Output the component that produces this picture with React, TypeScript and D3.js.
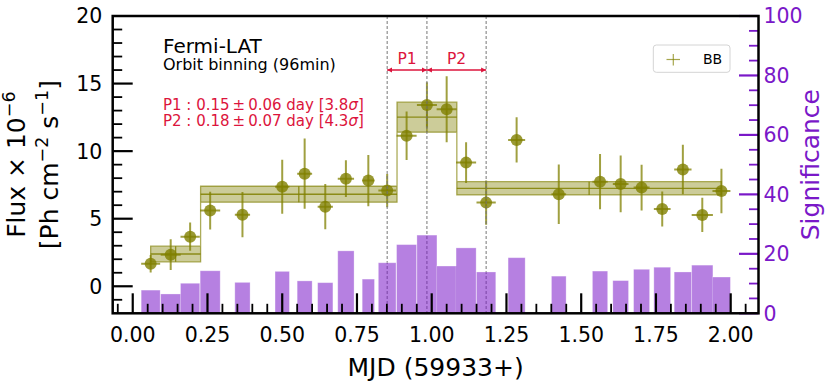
import React, { useEffect, useRef } from "react";
import * as d3 from "d3";

// Orbit-binned light curve (MJD 59933+)
const binTime = [0.060, 0.127, 0.192, 0.259, 0.367, 0.500, 0.575, 0.644, 0.713, 0.788, 0.851, 0.916, 0.984, 1.050, 1.115, 1.182, 1.284, 1.425, 1.563, 1.632, 1.702, 1.771, 1.840, 1.905, 1.969];
const binWidth = [0.0635, 0.067, 0.0645, 0.067, 0.051, 0.048, 0.050, 0.051, 0.0545, 0.041, 0.059, 0.067, 0.067, 0.067, 0.067, 0.0645, 0.057, 0.049, 0.051, 0.0525, 0.0535, 0.056, 0.058, 0.071, 0.060];
const flux = [1.67, 2.34, 3.67, 5.60, 5.30, 7.37, 8.33, 5.89, 7.96, 7.82, 7.08, 11.14, 13.42, 13.10, 9.15, 6.19, 10.83, 6.81, 7.74, 7.57, 7.30, 5.72, 8.64, 5.28, 7.05];
const fluxErr = [0.65, 1.14, 1.05, 1.40, 1.67, 2.00, 2.60, 1.67, 1.36, 1.90, 1.23, 1.79, 1.67, 2.44, 1.50, 1.64, 1.68, 2.20, 2.04, 2.10, 1.69, 1.30, 1.83, 1.27, 1.64];
const significance = [7.8, 6.5, 10.1, 14.3, 10.4, 14.1, 10.9, 10.3, 21.0, 11.5, 17.0, 23.1, 26.3, 15.9, 22.0, 13.9, 18.7, 12.5, 14.2, 11.0, 14.8, 15.5, 13.9, 16.2, 12.2];

// Bayesian blocks
const blockEdges = [0.060, 0.227, 0.884, 1.084, 1.969];
const blockFlux = [2.39, 6.81, 12.51, 7.25];
const blockErr = [0.58, 0.59, 1.11, 0.49];

// flare periods (dashed lines)
const periodEdges = [0.851, 0.984, 1.182];
const periodNames = ["P1", "P2"];
const periodText = [
  { name: "P1", dur: "0.15", err: "0.06", sig: "3.8" },
  { name: "P2", dur: "0.18", err: "0.07", sig: "4.3" },
];

const xTicks = [0, 0.25, 0.5, 0.75, 1.0, 1.25, 1.5, 1.75, 2.0];
const fluxTicks = [0, 5, 10, 15, 20];
const sigTicks = [0, 20, 40, 60, 80, 100];

export default function App() {
  const svgRef = useRef(null);

  useEffect(() => {
    const width = 831;
    const height = 388;
    const left = 112.7, right = 758.5, top = 16, bottom = 313.3;
    const olive = "#808000";
    const purple = "#7a18c8";
    const red = "crimson";
    const font = "DejaVu Sans, sans-serif";

    const x = d3.scaleLinear().domain([-0.067, 2.093]).range([left, right]);
    const yF = d3.scaleLinear().domain([-2, 20]).range([bottom, top]);
    const yS = d3.scaleLinear().domain([0, 100]).range([bottom, top]);

    const svg = d3.select(svgRef.current)
      .attr("width", width)
      .attr("height", height)
      .style("font-family", font);
    svg.selectAll("*").remove();

    const defs = svg.append("defs");
    defs.append("marker")
      .attr("id", "head")
      .attr("viewBox", "0 0 6 6")
      .attr("refX", 6).attr("refY", 3)
      .attr("markerWidth", 5).attr("markerHeight", 6)
      .attr("markerUnits", "userSpaceOnUse")
      .attr("orient", "auto-start-reverse")
      .append("path").attr("d", "M0,0L6,3L0,6Z").attr("fill", red);
    defs.append("clipPath").attr("id", "plot")
      .append("rect").attr("x", left).attr("y", top)
      .attr("width", right - left).attr("height", bottom - top);

    const plot = svg.append("g").attr("clip-path", "url(#plot)");

    // Bayesian block band
    const bandData = blockEdges.map((e, i) => {
      const k = Math.min(i, blockFlux.length - 1);
      return { t: e, lo: blockFlux[k] - blockErr[k], hi: blockFlux[k] + blockErr[k] };
    });
    const band = d3.area()
      .curve(d3.curveStepAfter)
      .x(d => x(d.t))
      .y0(d => yF(d.lo))
      .y1(d => yF(d.hi));
    plot.append("path")
      .attr("d", band(bandData))
      .attr("fill", olive).attr("fill-opacity", 0.4)
      .attr("stroke", olive).attr("stroke-opacity", 0.65).attr("stroke-width", 1.3);

    const blocks = plot.append("g")
      .attr("stroke", olive).attr("stroke-opacity", 0.85).attr("stroke-width", 1.3);
    blockFlux.forEach((f, i) => {
      const a = blockEdges[i], b = blockEdges[i + 1], c = (a + b) / 2;
      blocks.append("line").attr("x1", x(a)).attr("x2", x(b)).attr("y1", yF(f)).attr("y2", yF(f));
      blocks.append("line").attr("x1", x(c)).attr("x2", x(c))
        .attr("y1", yF(f - blockErr[i])).attr("y2", yF(f + blockErr[i]));
    });

    // flux points
    const pts = plot.append("g").attr("opacity", 1);
    binTime.forEach((t, i) => {
      const g = pts.append("g");
      g.append("line")
        .attr("x1", x(t - binWidth[i] / 2)).attr("x2", x(t + binWidth[i] / 2))
        .attr("y1", yF(flux[i])).attr("y2", yF(flux[i]))
        .attr("stroke", olive).attr("stroke-opacity", 0.75).attr("stroke-width", 2);
      g.append("line")
        .attr("x1", x(t)).attr("x2", x(t))
        .attr("y1", yF(flux[i] - fluxErr[i])).attr("y2", yF(flux[i] + fluxErr[i]))
        .attr("stroke", olive).attr("stroke-opacity", 0.75).attr("stroke-width", 2);
      g.append("circle")
        .attr("cx", x(t)).attr("cy", yF(flux[i])).attr("r", 6)
        .attr("fill", olive).attr("fill-opacity", 0.8);
    });

    // period boundaries
    plot.append("g").selectAll("line").data(periodEdges).join("line")
      .attr("x1", d => x(d)).attr("x2", d => x(d))
      .attr("y1", top).attr("y2", bottom)
      .attr("stroke", "#777").attr("stroke-width", 1).attr("stroke-dasharray", "3,2");

    // period arrows
    const arrowY = 70;
    periodNames.forEach((name, i) => {
      const a = x(periodEdges[i]), b = x(periodEdges[i + 1]);
      svg.append("line")
        .attr("x1", a).attr("x2", b).attr("y1", arrowY).attr("y2", arrowY)
        .attr("stroke", red).attr("stroke-width", 1.4)
        .attr("marker-start", "url(#head)").attr("marker-end", "url(#head)");
      svg.append("text")
        .attr("x", (a + b) / 2).attr("y", 63.5)
        .attr("text-anchor", "middle").attr("font-size", 15.5).attr("fill", red)
        .text(name);
    });

    // annotation text
    svg.append("text").attr("x", 163).attr("y", 53.3).attr("font-size", 20).text("Fermi-LAT");
    svg.append("text").attr("x", 163).attr("y", 70).attr("font-size", 16).text("Orbit binning (96min)");
    periodText.forEach((p, i) => {
      const t = svg.append("text")
        .attr("x", 163).attr("y", 110 + i * 16.3)
        .attr("font-size", 15).attr("fill", red);
      t.append("tspan").text(`${p.name} : ${p.dur}\u2009\u00b1\u2009${p.err} day [${p.sig}`);
      t.append("tspan").attr("font-style", "italic").text("\u03c3");
      t.append("tspan").text("]");
    });

    // legend
    svg.append("rect")
      .attr("x", 653.3).attr("y", 45).attr("width", 76.7).attr("height", 27.3).attr("rx", 3)
      .attr("fill", "white").attr("fill-opacity", 0.8)
      .attr("stroke", "#d4d4d4").attr("stroke-width", 1);
    const lg = svg.append("g").attr("stroke", olive).attr("stroke-opacity", 0.7).attr("stroke-width", 1.2);
    lg.append("line").attr("x1", 666.5).attr("x2", 680).attr("y1", 59.5).attr("y2", 59.5);
    lg.append("line").attr("x1", 673.3).attr("x2", 673.3).attr("y1", 54).attr("y2", 65.5);
    svg.append("text").attr("x", 703).attr("y", 64.3).attr("font-size", 14).text("BB");

    // left & bottom ticks (flux axes)
    const ticks = svg.append("g").attr("stroke", "black");
    d3.range(-1, 42).forEach(i => {
      const major = i % 5 === 0;
      const v = i * 0.05;
      ticks.append("line")
        .attr("x1", x(v)).attr("x2", x(v))
        .attr("y1", bottom).attr("y2", bottom - (major ? 20 : 9.5))
        .attr("stroke-width", major ? 2.2 : 1.8);
    });
    d3.range(-1, 20).forEach(v => {
      const major = v % 5 === 0;
      ticks.append("line")
        .attr("x1", left).attr("x2", left + (major ? 20 : 9.5))
        .attr("y1", yF(v)).attr("y2", yF(v))
        .attr("stroke-width", major ? 2.2 : 1.8);
    });

    // significance bars (twin axis, drawn over)
    plot.append("g").selectAll("rect").data(binTime).join("rect")
      .attr("x", (d, i) => x(d - binWidth[i] / 2))
      .attr("width", (d, i) => x(d + binWidth[i] / 2) - x(d - binWidth[i] / 2))
      .attr("y", (d, i) => yS(significance[i]))
      .attr("height", (d, i) => yS(0) - yS(significance[i]))
      .attr("fill", purple).attr("fill-opacity", 0.55)
      .attr("stroke", "white").attr("stroke-opacity", 0.35).attr("stroke-width", 0.8);

    // right ticks
    const rt = svg.append("g").attr("stroke", purple);
    d3.range(0, 101, 5).forEach(v => {
      const major = v % 20 === 0;
      rt.append("line")
        .attr("x1", right).attr("x2", right - (major ? 19.5 : 9.5))
        .attr("y1", yS(v)).attr("y2", yS(v))
        .attr("stroke-width", major ? 2.2 : 1.8);
    });

    // frame
    svg.append("rect")
      .attr("x", left).attr("y", top).attr("width", right - left).attr("height", bottom - top)
      .attr("fill", "none").attr("stroke", "black").attr("stroke-width", 2.5);

    // tick labels
    svg.append("g").selectAll("text").data(xTicks).join("text")
      .attr("x", d => x(d)).attr("y", 341.7)
      .attr("text-anchor", "middle").attr("font-size", 20.5)
      .text(d => d.toFixed(2));
    svg.append("g").selectAll("text").data(fluxTicks).join("text")
      .attr("x", 102.3).attr("y", d => yF(d)).attr("dy", "0.36em")
      .attr("text-anchor", "end").attr("font-size", 20.5)
      .text(d => d);
    svg.append("g").selectAll("text").data(sigTicks).join("text")
      .attr("x", 763.5).attr("y", d => yS(d)).attr("dy", "0.36em")
      .attr("font-size", 20.5).attr("fill", purple)
      .text(d => d);

    // axis labels
    const midY = (top + bottom) / 2;
    svg.append("text")
      .attr("x", (left + right) / 2).attr("y", 375.7)
      .attr("text-anchor", "middle").attr("font-size", 25)
      .text("MJD (59933+)");

    const yl1 = svg.append("text")
      .attr("transform", `translate(25,${midY}) rotate(-90)`)
      .attr("text-anchor", "middle").attr("font-size", 25);
    yl1.append("tspan").text("Flux \u00d7 10");
    yl1.append("tspan").attr("font-size", 17.5).attr("dy", -10).text("\u22126");

    const yl2 = svg.append("text")
      .attr("transform", `translate(58,${midY}) rotate(-90)`)
      .attr("text-anchor", "middle").attr("font-size", 25);
    yl2.append("tspan").text("[Ph cm");
    yl2.append("tspan").attr("font-size", 17.5).attr("dy", -10).text("\u22122");
    yl2.append("tspan").attr("dy", 10).text(" s");
    yl2.append("tspan").attr("font-size", 17.5).attr("dy", -10).text("\u22121");
    yl2.append("tspan").attr("dy", 10).text("]");

    svg.append("text")
      .attr("transform", `translate(819,${midY}) rotate(-90)`)
      .attr("text-anchor", "middle").attr("font-size", 25).attr("fill", purple)
      .text("Significance");

    return () => {
      d3.select(svgRef.current).selectAll("*").remove();
    };
  }, []);

  return (
    <svg ref={svgRef} style={{ position: "absolute", left: 0, top: 0, background: "white" }} />
  );
}
